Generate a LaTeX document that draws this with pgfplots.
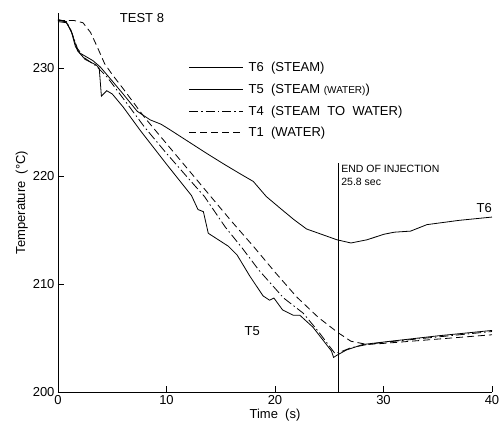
\documentclass[border=0pt]{standalone}
\usepackage{pgfplots}
\pgfplotsset{compat=1.18}
\usepackage{fontspec}
\setmainfont{Liberation Sans}
\begin{document}
\begin{tikzpicture}[x=1pt,y=1pt]
\useasboundingbox (-58,-31) rectangle (441,392);
\begin{axis}[
  at={(0,0)}, anchor=south west,
  scale only axis, width=434pt, height=379pt,
  xmin=0, xmax=40, ymin=200, ymax=235.1,
  axis x line=bottom, axis y line=left,
  axis line style={-, line width=0.9pt},
  xtick={0,10,20,30,40}, ytick={200,210,220,230},
  tick align=inside, major tick length=6pt,
  tick style={line width=0.9pt, black},
  xtick pos=bottom, ytick pos=left,
  /pgf/number format/assume math mode=true,
  ticklabel style={font=\fontsize{13}{15}\selectfont},
  xlabel={Time\ \ (s)}, ylabel={Temperature\ \ (\textdegree C)},
  label style={font=\fontsize{13}{15}\selectfont},
  xlabel style={yshift=3pt}, ylabel style={yshift=-2pt},
  legend style={draw=none, fill=none, at={(axis cs:12.05,230.75)}, anchor=north west,
    font=\fontsize{13}{15}\selectfont, row sep=6.8pt, inner sep=0pt},
  legend cell align=left,
  legend image code/.code={\draw[#1] (0pt,0pt) -- (54pt,0pt);},
  every axis plot/.append style={line width=0.8pt, black},
  clip=false,
]
% T6 (STEAM)
\addplot[solid] coordinates {(0,234.4) (0.7,234.3) (1.2,233.5) (1.6,232.0) (2.0,231.4) (3.2,230.7) (3.9,230.1) (5,228.8) (6,227.6) (7.3,226.0) (8.5,225.2) (9.5,224.8) (10.3,224.3) (12,223.2) (13.7,222.1) (15.3,221.1) (16.8,220.2) (18.0,219.5) (19.2,218.1) (20.5,217.0) (21.7,216.0) (22.9,215.1) (24.3,214.6) (25.7,214.1) (27,213.8) (28.5,214.1) (30,214.6) (31,214.8) (32.5,214.9) (34,215.5) (37,215.9) (40,216.2)};
\addlegendentry{\hspace{3pt}T6\ \ (STEAM)}
% T5 (STEAM (WATER))
\addplot[solid] coordinates {(0,234.3) (0.8,234.2) (1.3,233.2) (1.8,231.6) (2.5,230.8) (3.5,230.3) (3.8,230.0) (4.0,227.4) (4.5,227.9) (5.0,227.6) (6,226.4) (7.6,224.2) (10,221.1) (12.3,218.2) (12.9,216.9) (13.4,216.7) (13.85,214.7) (15.7,213.5) (16.5,212.7) (17.7,210.7) (18.9,208.9) (19.5,208.5) (19.9,208.7) (20.7,207.6) (21.7,207.1) (22.3,207.1) (23.5,206.0) (25.2,203.8) (25.4,203.2) (25.7,203.4) (26.6,203.9) (28.1,204.4) (31.5,204.8) (35,205.2) (40,205.7)};
\addlegendentry{\hspace{3pt}T5\ \ (STEAM {\fontsize{10}{12}\selectfont(WATER)})}
% T4 (STEAM TO WATER)
\addplot[dash pattern=on 9pt off 3pt on 1.5pt off 3pt] coordinates {(0,234.5) (0.8,234.3) (1.3,233.2) (1.8,231.8) (2.5,230.9) (3.5,230.2) (4.5,229.2) (6,227.2) (8,224.5) (10,222.1) (12,219.8) (13.5,218.1) (15.4,215.3) (17,213.3) (18.5,211.3) (20.8,208.7) (22.6,207.3) (24,205.6) (25.5,203.6) (26,203.7) (27,204.1) (28.5,204.4) (30,204.6) (33,204.9) (36,205.2) (40,205.6)};
\addlegendentry{\hspace{3pt}T4\ \ (STEAM\ \ TO\ \ WATER)}
% T1 (WATER)
\addplot[dash pattern=on 7pt off 4pt] coordinates {(0,234.4) (1.5,234.4) (2.3,234.2) (3,233.3) (3.6,232.0) (4.3,230.4) (5,229.4) (6,228.1) (8,225.4) (10,223.0) (12,220.6) (14,218.2) (16,215.8) (18,213.5) (20,211.1) (22,208.8) (24,206.9) (25.8,205.5) (27,204.7) (28.5,204.4) (30,204.5) (35,204.9) (40,205.3)};
\addlegendentry{\hspace{3pt}T1\ \ (WATER)}
% end of injection line
\addplot[solid, line width=0.8pt, forget plot] coordinates {(25.8,200) (25.8,221.2)};
\node[anchor=north west, inner sep=0pt, align=left, font=\fontsize{10.5}{12.5}\selectfont] at (axis cs:26.1,221.0) {END OF INJECTION\\25.8 sec};
\node[anchor=south east, inner sep=0pt, font=\fontsize{13}{15}\selectfont] at (axis cs:40,216.6) {T6};
\node[inner sep=0pt, font=\fontsize{13}{15}\selectfont] at (axis cs:17.9,205.65) {T5};
\node[inner sep=0pt, font=\fontsize{13}{15}\selectfont] at (axis cs:7.74,234.6) {TEST 8};
\end{axis}
\end{tikzpicture}
\end{document}
